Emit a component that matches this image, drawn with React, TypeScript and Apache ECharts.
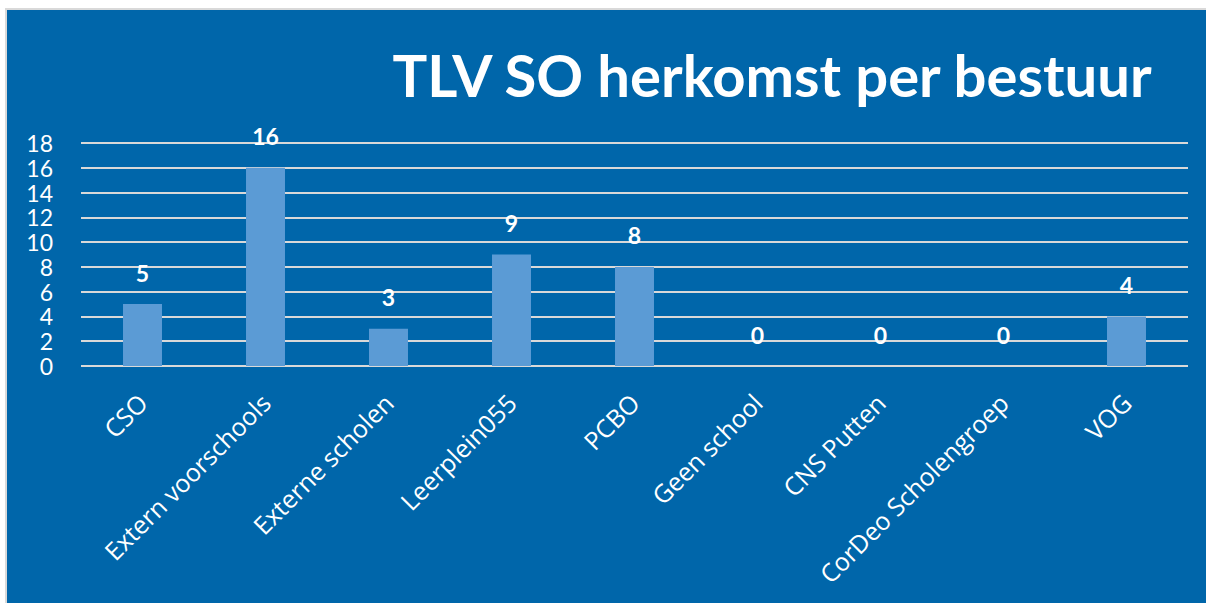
import React, { useEffect, useRef } from "react";
import * as echarts from "echarts";

const categories = [
  "CSO",
  "Extern voorschools",
  "Externe scholen",
  "Leerplein055",
  "PCBO",
  "Geen school",
  "CNS Putten",
  "CorDeo Scholengroep",
  "VOG",
];
const values = [5, 16, 3, 9, 8, 0, 0, 0, 4];
const titleText = "TLV SO herkomst per bestuur";

const FONT = "Lato, 'Open Sans', sans-serif";
const FONT2 = "'Open Sans', Lato, sans-serif";

export default function App() {
  const ref = useRef<HTMLDivElement>(null);
  useEffect(() => {
    if (!ref.current) return;
    const chart = echarts.init(ref.current, null, { renderer: "svg" });
    chart.setOption({
      animation: false,
      backgroundColor: "transparent",
      title: {
        text: titleText,
        right: 46,
        top: 40,
        textStyle: {
          color: "#ffffff",
          fontFamily: FONT,
          fontWeight: "bold",
          fontSize: 58,
        },
      },
      grid: { left: 81, right: 18, top: 143, bottom: 237, containLabel: false },
      xAxis: {
        type: "category",
        data: categories,
        axisLine: { show: false },
        axisTick: { show: false },
        axisLabel: {
          rotate: 45,
          interval: 0,
          margin: 32,
          color: "#ffffff",
          fontFamily: FONT2,
          fontSize: 25,
        },
      },
      yAxis: {
        type: "value",
        min: 0,
        max: 18,
        interval: 2,
        axisLine: { show: false },
        axisTick: { show: false },
        axisLabel: {
          margin: 28,
          color: "#ffffff",
          fontFamily: FONT,
          fontSize: 23,
          lineHeight: 22,
        },
        splitLine: { lineStyle: { color: "#D9D9D9", width: 2 } },
      },
      series: [
        {
          type: "bar",
          data: values,
          barWidth: "31.7%",
          itemStyle: { color: "#5B9BD5" },
          label: {
            show: true,
            position: "top",
            distance: 20,
            color: "#ffffff",
            fontFamily: FONT,
            fontWeight: "bold",
            fontSize: 23,
          },
        },
      ],
    });
    return () => chart.dispose();
  }, []);

  return (
    <div
      style={{
        position: "fixed",
        left: 0,
        top: 0,
        width: 1206,
        height: 603,
        background: "#ffffff",
        overflow: "hidden",
      }}
    >
      <div
        style={{
          position: "absolute",
          left: 5,
          top: 8,
          width: 1210,
          height: 610,
          background: "#0066AA",
          border: "2px solid #D9D9D9",
          boxSizing: "border-box",
        }}
      />
      <div
        ref={ref}
        style={{ position: "absolute", left: 0, top: 0, width: 1206, height: 603 }}
      />
    </div>
  );
}
